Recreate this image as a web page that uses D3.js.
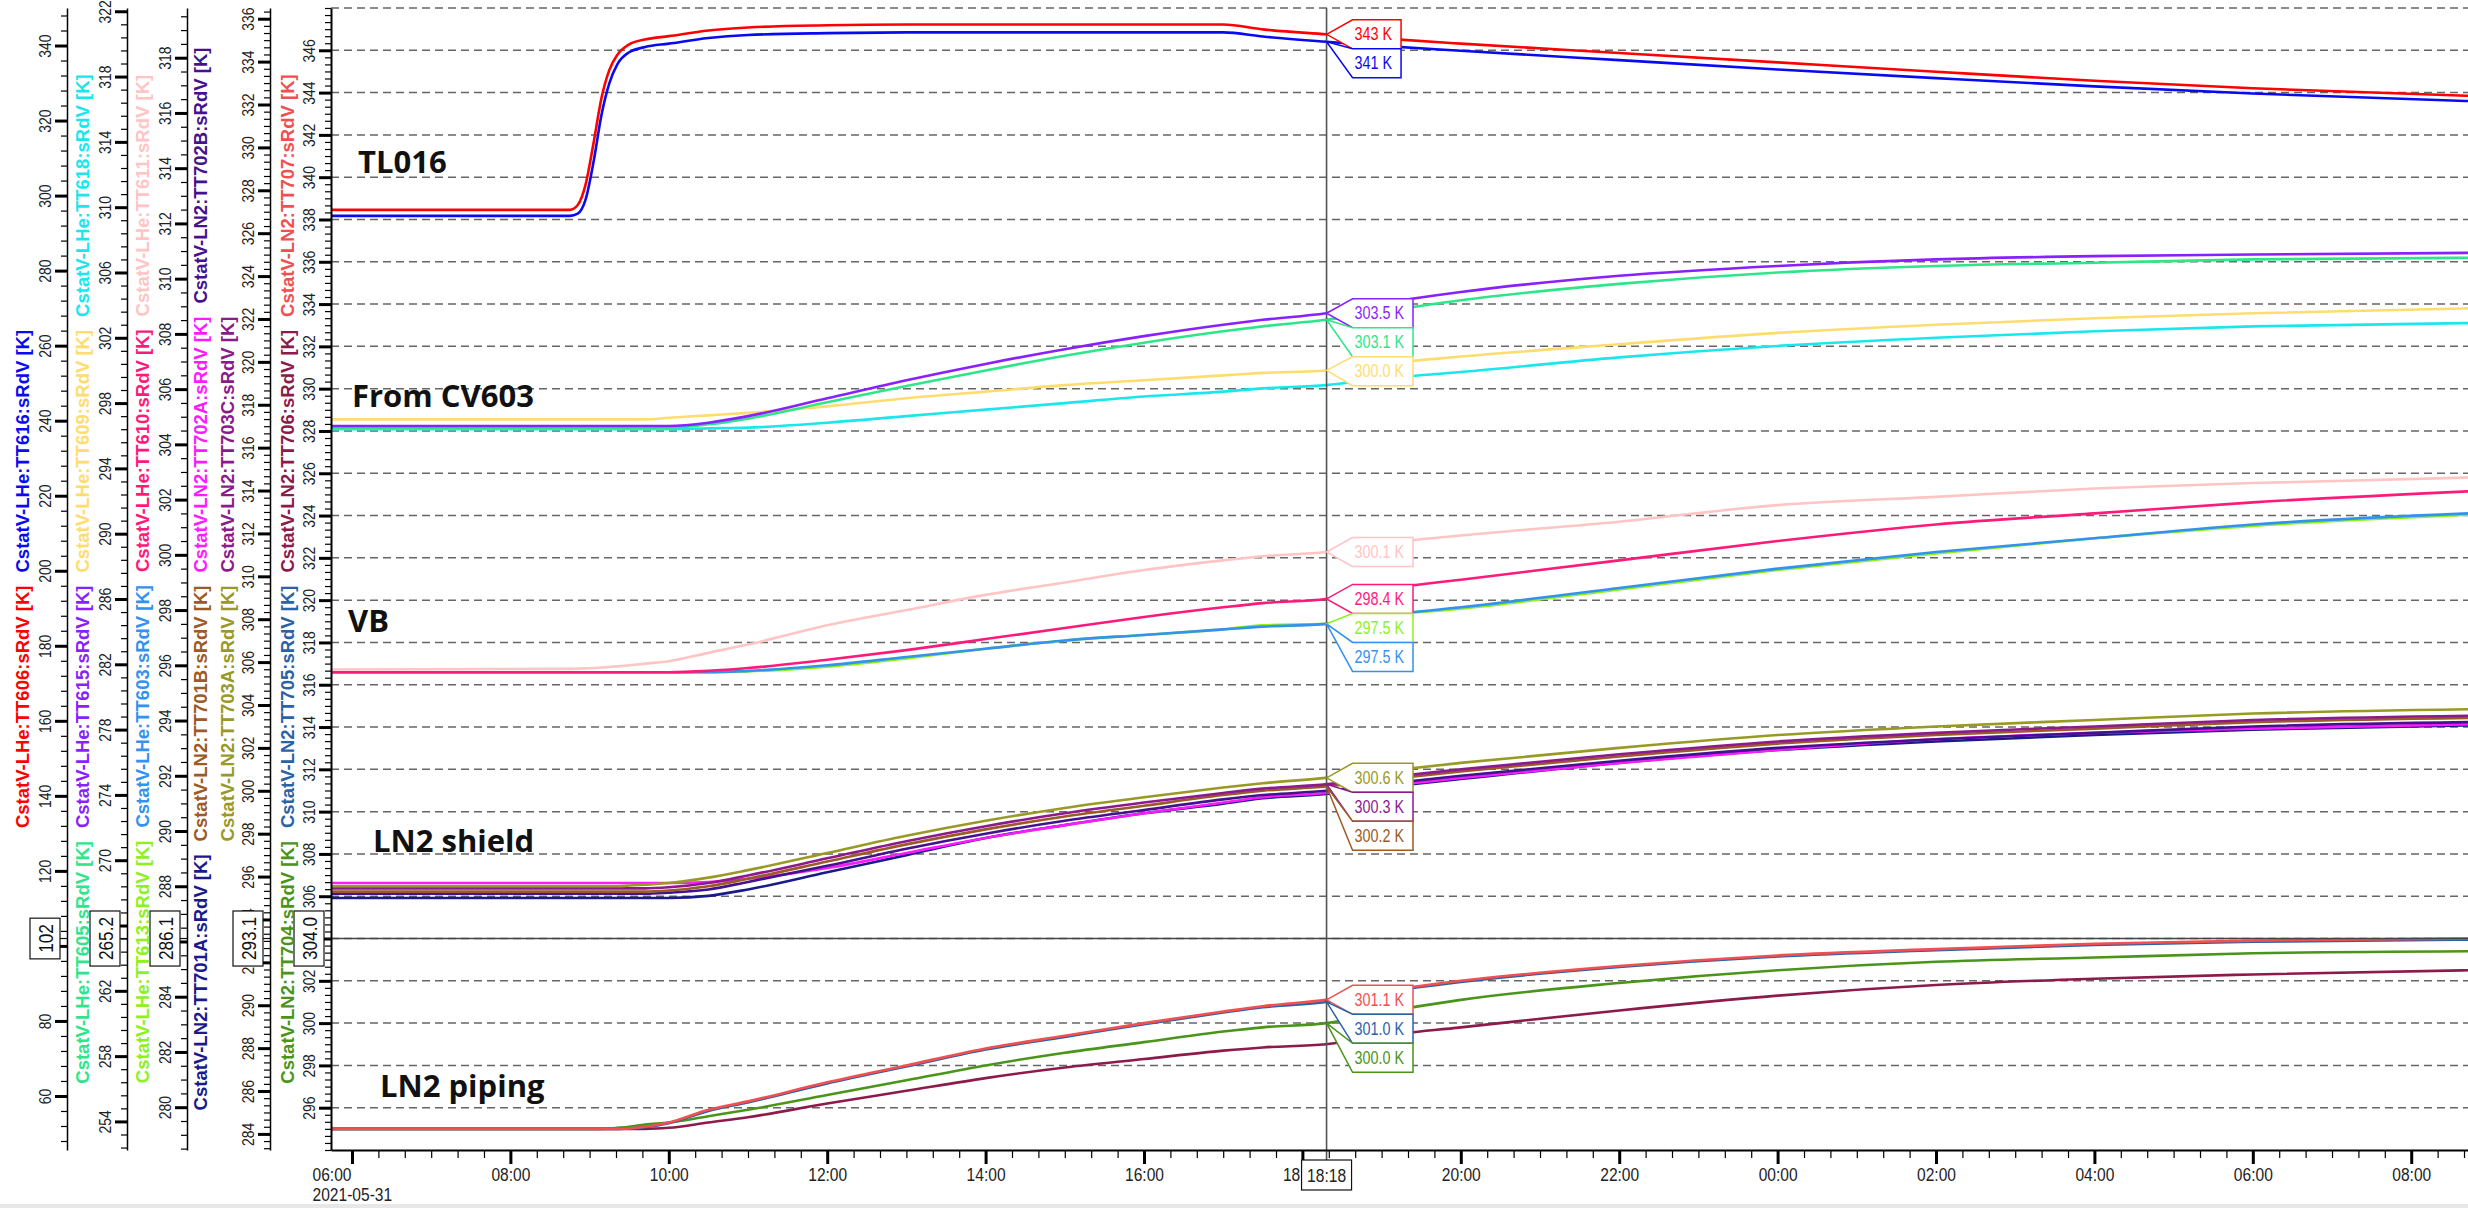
<!DOCTYPE html>
<html>
<head>
<meta charset="utf-8">
<script src="https://cdn.jsdelivr.net/npm/d3@7"></script>
<style>
  body { margin: 0; background: #fff; }
  svg { display: block; font-family: "Liberation Sans", Arial, sans-serif; }
</style>
</head>
<body>
<svg id="chart" width="2468" height="1208"></svg>
<script>
// sample times, hours since 2021-05-31 00:00
const hours = [5.73, 8.75, 8.85, 8.95, 9.05, 9.15, 9.25, 9.35, 9.5, 9.7, 10, 10.5, 11, 12, 13, 14, 15, 16, 17, 17.5, 18.3, 19, 20, 22, 24, 26, 28, 30, 32.72];

// TL016
const tt606 = [296.2, 296.2, 297.5, 303.0, 314.0, 326.0, 333.5, 337.5, 340.3, 341.6, 342.5, 344.0, 344.8, 345.4, 345.6, 345.6, 345.6, 345.6, 345.6, 344.3, 343.0, 341.9, 340.5, 338.0, 335.5, 333.0, 330.6, 328.6, 326.6];
const tt616 = [294.6, 294.6, 295.2, 299.0, 309.0, 321.5, 330.0, 335.0, 338.2, 339.6, 340.5, 342.0, 342.8, 343.3, 343.5, 343.5, 343.5, 343.5, 343.5, 342.4, 341.0, 339.9, 338.6, 336.1, 333.6, 331.3, 329.1, 327.2, 325.2];
// From CV603
const tt615 = [296.6, 296.6, 296.6, 296.6, 296.6, 296.6, 296.6, 296.6, 296.6, 296.6, 296.6, 296.8, 297.2, 298.3, 299.4, 300.4, 301.3, 302.1, 302.8, 303.1, 303.5, 304.1, 304.8, 305.8, 306.4, 306.8, 307.0, 307.1, 307.2];
const tt605 = [296.5, 296.5, 296.5, 296.5, 296.5, 296.5, 296.5, 296.5, 296.5, 296.5, 296.5, 296.7, 297.05, 298.05, 299.05, 300.0, 300.9, 301.7, 302.4, 302.7, 303.1, 303.6, 304.3, 305.3, 306.0, 306.4, 306.6, 306.8, 306.9];
const tt609 = [297.0, 297.0, 297.0, 297.0, 297.0, 297.0, 297.0, 297.0, 297.0, 297.0, 297.1, 297.25, 297.4, 297.8, 298.3, 298.7, 299.1, 299.4, 299.7, 299.85, 300.0, 300.4, 300.85, 301.6, 302.3, 302.8, 303.2, 303.5, 303.8];
const tt618 = [296.4, 296.4, 296.4, 296.4, 296.4, 296.4, 296.4, 296.4, 296.4, 296.4, 296.4, 296.45, 296.5, 296.8, 297.2, 297.6, 298.0, 298.4, 298.7, 298.9, 299.1, 299.5, 299.9, 300.8, 301.5, 302.0, 302.4, 302.7, 302.9];
// VB
const tt611 = [295.85, 295.87, 295.88, 295.89, 295.9, 295.92, 295.94, 295.96, 296.0, 296.06, 296.15, 296.45, 296.75, 297.45, 298.0, 298.55, 299.0, 299.45, 299.8, 299.95, 300.1, 300.4, 300.7, 301.2, 301.8, 302.1, 302.4, 302.6, 302.8];
const tt610 = [295.75, 295.75, 295.75, 295.75, 295.75, 295.75, 295.75, 295.75, 295.75, 295.75, 295.75, 295.8, 295.9, 296.2, 296.55, 296.95, 297.35, 297.75, 298.1, 298.25, 298.4, 298.75, 299.1, 299.8, 300.5, 301.1, 301.5, 301.9, 302.3];
const tt603 = [295.75, 295.75, 295.75, 295.75, 295.75, 295.75, 295.75, 295.75, 295.75, 295.75, 295.75, 295.75, 295.8, 296.0, 296.3, 296.6, 296.9, 297.1, 297.3, 297.4, 297.5, 297.8, 298.1, 298.8, 299.5, 300.1, 300.6, 301.1, 301.5];
const tt613 = [295.75, 295.75, 295.75, 295.75, 295.75, 295.75, 295.75, 295.75, 295.75, 295.75, 295.75, 295.75, 295.78, 295.95, 296.25, 296.6, 296.9, 297.1, 297.3, 297.45, 297.5, 297.8, 298.05, 298.75, 299.45, 300.05, 300.6, 301.05, 301.45];
// LN2 shield
const tt703a = [295.55, 295.55, 295.55, 295.55, 295.55, 295.55, 295.55, 295.55, 295.58, 295.62, 295.7, 295.95, 296.3, 297.1, 297.9, 298.6, 299.2, 299.7, 300.15, 300.35, 300.6, 300.9, 301.3, 302.0, 302.6, 303.0, 303.3, 303.6, 303.8];
const tt703c = [295.45, 295.45, 295.45, 295.45, 295.45, 295.45, 295.45, 295.45, 295.45, 295.45, 295.5, 295.7, 296.05, 296.85, 297.65, 298.35, 298.95, 299.45, 299.9, 300.1, 300.3, 300.6, 301.0, 301.7, 302.3, 302.7, 303.0, 303.3, 303.5];
const tt701b = [295.3, 295.3, 295.3, 295.3, 295.3, 295.3, 295.3, 295.3, 295.3, 295.3, 295.35, 295.55, 295.9, 296.7, 297.5, 298.2, 298.8, 299.3, 299.8, 300.0, 300.2, 300.5, 300.9, 301.6, 302.2, 302.6, 302.9, 303.2, 303.4];
const tt702b = [295.2, 295.2, 295.2, 295.2, 295.2, 295.2, 295.2, 295.2, 295.2, 295.2, 295.25, 295.4, 295.75, 296.5, 297.3, 298.0, 298.6, 299.1, 299.6, 299.8, 300.0, 300.3, 300.7, 301.4, 302.0, 302.4, 302.7, 303.0, 303.2];
const tt702a = [295.7, 295.7, 295.7, 295.7, 295.7, 295.7, 295.7, 295.7, 295.7, 295.7, 295.7, 295.75, 295.9, 296.4, 297.1, 297.8, 298.4, 298.95, 299.45, 299.7, 299.9, 300.2, 300.6, 301.3, 301.9, 302.4, 302.7, 302.9, 303.1];
const tt701a = [295.0, 295.0, 295.0, 295.0, 295.0, 295.0, 295.0, 295.0, 295.0, 295.0, 295.0, 295.1, 295.4, 296.2, 297.0, 297.8, 298.4, 298.95, 299.4, 299.65, 299.85, 300.15, 300.55, 301.3, 301.9, 302.3, 302.6, 302.85, 303.05];
// LN2 piping
const tt707 = [295.0, 295.0, 295.0, 295.0, 295.0, 295.0, 295.0, 295.0, 295.02, 295.1, 295.3, 295.9, 296.3, 297.2, 298.0, 298.8, 299.4, 300.0, 300.55, 300.8, 301.1, 301.5, 302.0, 302.7, 303.2, 303.5, 303.75, 303.9, 304.0];
const tt705 = [295.0, 295.0, 295.0, 295.0, 295.0, 295.0, 295.0, 295.0, 295.02, 295.08, 295.27, 295.85, 296.25, 297.15, 297.95, 298.75, 299.35, 299.95, 300.5, 300.75, 301.0, 301.45, 301.95, 302.65, 303.15, 303.45, 303.7, 303.85, 303.95];
const tt704 = [295.0, 295.0, 295.0, 295.0, 295.0, 295.0, 295.02, 295.05, 295.1, 295.2, 295.3, 295.6, 295.9, 296.6, 297.3, 298.0, 298.6, 299.1, 299.6, 299.8, 300.0, 300.5, 301.1, 301.9, 302.5, 302.9, 303.1, 303.3, 303.4];
const tt706 = [295.0, 295.0, 295.0, 295.0, 295.0, 295.0, 295.0, 295.0, 295.0, 295.0, 295.05, 295.3, 295.55, 296.2, 296.8, 297.4, 297.9, 298.3, 298.7, 298.85, 299.0, 299.4, 299.8, 300.6, 301.3, 301.8, 302.1, 302.3, 302.5];

const seriesList = [
  { id: "TT616", label: "CstatV-LHe:TT616:sRdV [K]", color: "#0a0af0", axis: 0, values: tt616 },
  { id: "TT606", label: "CstatV-LHe:TT606:sRdV [K]", color: "#ff0000", axis: 0, values: tt606 },
  { id: "TT618", label: "CstatV-LHe:TT618:sRdV [K]", color: "#1ae6ee", axis: 1, values: tt618 },
  { id: "TT609", label: "CstatV-LHe:TT609:sRdV [K]", color: "#ffdc6e", axis: 1, values: tt609 },
  { id: "TT605", label: "CstatV-LHe:TT605:sRdV [K]", color: "#2ee68a", axis: 1, values: tt605 },
  { id: "TT615", label: "CstatV-LHe:TT615:sRdV [K]", color: "#8a1fff", axis: 1, values: tt615 },
  { id: "TT611", label: "CstatV-LHe:TT611:sRdV [K]", color: "#ffc4c4", axis: 2, values: tt611 },
  { id: "TT613", label: "CstatV-LHe:TT613:sRdV [K]", color: "#8cf21a", axis: 2, values: tt613 },
  { id: "TT603", label: "CstatV-LHe:TT603:sRdV [K]", color: "#3392f0", axis: 2, values: tt603 },
  { id: "TT610", label: "CstatV-LHe:TT610:sRdV [K]", color: "#ff1a7a", axis: 2, values: tt610 },
  { id: "TT701A", label: "CstatV-LN2:TT701A:sRdV [K]", color: "#1a1a8c", axis: 3, values: tt701a },
  { id: "TT702A", label: "CstatV-LN2:TT702A:sRdV [K]", color: "#ff1aff", axis: 3, values: tt702a },
  { id: "TT702B", label: "CstatV-LN2:TT702B:sRdV [K]", color: "#45128f", axis: 3, values: tt702b },
  { id: "TT701B", label: "CstatV-LN2:TT701B:sRdV [K]", color: "#9c5a24", axis: 3, values: tt701b },
  { id: "TT703C", label: "CstatV-LN2:TT703C:sRdV [K]", color: "#8c1a8c", axis: 3, values: tt703c },
  { id: "TT703A", label: "CstatV-LN2:TT703A:sRdV [K]", color: "#999926", axis: 3, values: tt703a },
  { id: "TT706", label: "CstatV-LN2:TT706:sRdV [K]", color: "#8c1a4a", axis: 4, values: tt706 },
  { id: "TT704", label: "CstatV-LN2:TT704:sRdV [K]", color: "#4a9419", axis: 4, values: tt704 },
  { id: "TT705", label: "CstatV-LN2:TT705:sRdV [K]", color: "#2a62a8", axis: 4, values: tt705 },
  { id: "TT707", label: "CstatV-LN2:TT707:sRdV [K]", color: "#f25050", axis: 4, values: tt707 }
];

// y axes, left to right
const axisDomains = [[45.6, 350], [252.25, 322.2], [278.45, 319.8], [283.25, 336.5], [294, 348]];
const axisTicks = [d3.range(60, 341, 20), d3.range(254, 323, 4), d3.range(280, 319, 2), d3.range(284, 337, 2), d3.range(296, 347, 2)];
const axisMinorSteps = [4, 0.8, 0.5, 1 / 3, 1 / 3];
const axisFormats = [".0f", ".1f", ".1f", ".1f", ".1f"];

// axis titles per column, stacked bottom to top
const titleColumns = [
  ["TT606", "TT616"],
  ["TT605", "TT615", "TT609", "TT618"],
  ["TT613", "TT603", "TT610", "TT611"],
  ["TT701A", "TT701B", "TT702A", "TT702B"],
  ["TT703A", "TT703C"],
  ["TT704", "TT705", "TT706", "TT707"]
];

const bandNames = ["TL016", "From CV603", "VB", "LN2 shield", "LN2 piping"];
const gridValues = d3.range(296, 349, 2);
const crosshairValue = 304.0;
const cursorTime = new Date(2021, 4, 31, 18, 18, 18);
// [series, decimals] of the value tags at the cursor
const cursorTags = [
  ["TT606", 0], ["TT616", 0],
  ["TT615", 1], ["TT605", 1], ["TT609", 1],
  ["TT611", 1], ["TT610", 1], ["TT613", 1], ["TT603", 1],
  ["TT703A", 1], ["TT703C", 1], ["TT701B", 1],
  ["TT707", 1], ["TT705", 1], ["TT704", 1]
];

// layout
const plot = { left: 331, right: 2468, top: 8, bottom: 1150 };
const axisX = [67, 127, 187, 270, 331];
const titleX = [22, 82, 142, 200, 227, 287];
const bandPos = [[358, 173], [352, 407], [348, 632], [373, 852], [380, 1097]];
const narrow = "scale(0.82,1)";

const svg = d3.select("#chart");
const day0 = new Date(2021, 4, 31);
const toDate = (h) => new Date(day0.getTime() + h * 3600e3);
const byId = new Map(seriesList.map((s) => [s.id, s]));

const x = d3.scaleTime()
  .domain([toDate(5.735), toDate(32.717)])
  .range([plot.left, plot.right]);
const yScales = axisDomains.map((d) => d3.scaleLinear().domain(d).range([plot.bottom, plot.top]));

svg.append("rect").attr("y", 1204).attr("width", 2468).attr("height", 4).attr("fill", "#e8e8e8");

// Grid
svg.append("g")
  .selectAll("line")
  .data(gridValues)
  .join("line")
  .attr("x1", plot.left)
  .attr("x2", plot.right)
  .attr("y1", (d) => yScales[4](d))
  .attr("y2", (d) => yScales[4](d))
  .attr("stroke", "#666")
  .attr("stroke-width", 1.5)
  .attr("stroke-dasharray", "8,5");

// Band labels
svg.append("g")
  .selectAll("text")
  .data(bandNames)
  .join("text")
  .attr("x", (d, i) => bandPos[i][0])
  .attr("y", (d, i) => bandPos[i][1])
  .attr("font-family", "'Open Sans', 'Noto Sans', sans-serif")
  .attr("font-weight", 700)
  .attr("font-size", 31)
  .attr("fill", "#111")
  .text((d) => d);

// Lines
svg.append("clipPath").attr("id", "clip")
  .append("rect")
  .attr("x", plot.left).attr("y", 0)
  .attr("width", plot.right - plot.left).attr("height", plot.bottom);

const lineLayer = svg.append("g").attr("clip-path", "url(#clip)");
seriesList.forEach((s) => {
  const line = d3.line()
    .x((d, i) => x(toDate(hours[i])))
    .y((d) => yScales[s.axis](d))
    .curve(d3.curveMonotoneX);
  lineLayer.append("path")
    .attr("d", line(s.values))
    .attr("fill", "none")
    .attr("stroke", s.color)
    .attr("stroke-width", 2.6);
});

// Crosshair
const cy = yScales[4](crosshairValue);
const cx = x(cursorTime);
svg.append("line")
  .attr("x1", plot.left).attr("x2", plot.right)
  .attr("y1", cy).attr("y2", cy)
  .attr("stroke", "#444").attr("stroke-width", 1.5);
svg.append("line")
  .attr("x1", cx).attr("x2", cx)
  .attr("y1", plot.top).attr("y2", 1160)
  .attr("stroke", "#555").attr("stroke-width", 1.6);

// Y axes
axisDomains.forEach((dom, i) => {
  const y = yScales[i];
  const g = svg.append("g").attr("transform", `translate(${axisX[i]},0)`);

  const step = axisMinorSteps[i];
  const minor = [];
  for (let v = axisTicks[i][0]; v <= dom[1] + 1e-9; v += step) minor.push(v);
  for (let v = axisTicks[i][0] - step; v >= dom[0] - 1e-9; v -= step) minor.push(v);

  g.append("g").call(d3.axisLeft(y).tickValues(minor).tickSize(6).tickSizeOuter(0).tickFormat(""))
    .call((a) => a.select(".domain").attr("stroke-width", i === 4 ? 2 : 1.5))
    .call((a) => a.selectAll(".tick line").attr("stroke-width", 1.2));

  g.append("g").call(d3.axisLeft(y).tickValues(axisTicks[i]).tickSize(12).tickSizeOuter(0))
    .call((a) => a.select(".domain").remove())
    .call((a) => a.selectAll(".tick line").attr("stroke-width", 3))
    .call((a) => a.selectAll(".tick text")
      .attr("x", 0).attr("y", 0).attr("dy", "0.36em")
      .attr("text-anchor", "middle")
      .attr("font-size", 17)
      .attr("font-family", "'Liberation Sans', Arial, sans-serif")
      .attr("fill", "#222")
      .attr("transform", `translate(-22,0) rotate(-90) ${narrow}`));

  // crosshair value box
  const label = d3.format(axisFormats[i])(y.invert(cy));
  const bx = g.append("g").attr("transform", `translate(-22,${cy})`);
  const t = bx.append("text")
    .attr("transform", `rotate(-90) ${narrow}`)
    .attr("dy", "0.36em")
    .attr("text-anchor", "middle")
    .attr("font-size", 21)
    .attr("fill", "#111")
    .text(label);
  const len = t.node().getComputedTextLength() * 0.82;
  bx.insert("rect", "text")
    .attr("x", -15).attr("y", -len / 2 - 6)
    .attr("width", 30).attr("height", len + 12)
    .attr("fill", "#fff").attr("stroke", "#111").attr("stroke-width", 1.2);
  g.append("line")
    .attr("x1", -7).attr("x2", 0)
    .attr("y1", cy).attr("y2", cy)
    .attr("stroke", "#111").attr("stroke-width", 1.2);
});

// Axis titles
titleColumns.forEach((ids, c) => {
  const col = svg.append("g");
  const items = ids.map((id) => {
    const s = byId.get(id);
    const t = col.append("text")
      .attr("font-size", 18.5)
      .attr("font-weight", 700)
      .attr("fill", s.color)
      .attr("dy", "0.36em")
      .text(s.label);
    return { t, len: t.node().getComputedTextLength() };
  });
  const gap = 13;
  const total = d3.sum(items, (d) => d.len) + gap * (items.length - 1);
  let base = (plot.top + plot.bottom) / 2 + total / 2;
  items.forEach((d) => {
    d.t.attr("transform", `translate(${titleX[c]},${base}) rotate(-90)`);
    base -= d.len + gap;
  });
});

// X axis
const xMinor = svg.append("g").attr("transform", `translate(0,${plot.bottom})`)
  .call(d3.axisBottom(x).ticks(d3.timeMinute.every(20)).tickSize(8).tickSizeOuter(0).tickFormat(""));
xMinor.select(".domain").attr("stroke-width", 2);
xMinor.selectAll(".tick line").attr("stroke-width", 1.2);

const cursorBoxW = 50;
const hourFormat = d3.timeFormat("%H:%M");
const xMajor = svg.append("g").attr("transform", `translate(0,${plot.bottom})`)
  .call(d3.axisBottom(x).ticks(d3.timeHour.every(2)).tickSize(14).tickSizeOuter(0).tickFormat(hourFormat));
xMajor.select(".domain").remove();
xMajor.selectAll(".tick line").attr("stroke-width", 3);
xMajor.selectAll(".tick text")
  .attr("y", 18)
  .attr("font-size", 19)
  .attr("font-family", "'Liberation Sans', Arial, sans-serif")
  .attr("fill", "#222")
  .attr("transform", narrow)
  // the cursor box hides the minutes of the label it sits on
  .text((d) => (Math.abs(x(d) - cx) < cursorBoxW ? hourFormat(d).slice(0, 3) : hourFormat(d)))
  .attr("text-anchor", (d) => (Math.abs(x(d) - cx) < cursorBoxW ? "start" : "middle"))
  .attr("x", (d) => (Math.abs(x(d) - cx) < cursorBoxW ? -20 / 0.82 : 0));

const firstTick = xMajor.select(".tick");
firstTick.select("text").attr("text-anchor", "start").attr("x", -40 / 0.82);
firstTick.append("text")
  .attr("x", -40 / 0.82).attr("y", 38).attr("dy", "0.71em")
  .attr("font-size", 19)
  .attr("fill", "#222")
  .attr("text-anchor", "start")
  .attr("transform", narrow)
  .text(d3.timeFormat("%Y-%m-%d")(x.domain()[0]));

// cursor time box
const cursorBox = svg.append("g").attr("transform", `translate(${cx},1160)`);
cursorBox.append("rect")
  .attr("x", -cursorBoxW / 2).attr("y", 0).attr("width", cursorBoxW).attr("height", 30)
  .attr("fill", "#fff").attr("stroke", "#111").attr("stroke-width", 1.2);
cursorBox.append("text")
  .attr("y", 22)
  .attr("text-anchor", "middle")
  .attr("font-size", 19)
  .attr("fill", "#222")
  .attr("transform", narrow)
  .text(hourFormat(cursorTime));

// Value tags at the cursor
const cursorHours = (cursorTime - day0) / 3600e3;
function valueAt(values, h) {
  const i = Math.min(d3.bisectRight(hours, h) - 1, hours.length - 2);
  const f = (h - hours[i]) / (hours[i + 1] - hours[i]);
  return values[i] + f * (values[i + 1] - values[i]);
}

const tagLayer = svg.append("g");
let prevBottom = -Infinity;
cursorTags.forEach(([id, dec]) => {
  const s = byId.get(id);
  const v = valueAt(s.values, cursorHours);
  const py = yScales[s.axis](v);
  const h = 29;
  const top = Math.max(py - h / 2, prevBottom);
  prevBottom = top + h;
  const x0 = cx + 26;
  const g = tagLayer.append("g");
  const txt = g.append("text")
    .attr("transform", `translate(${x0 + 2},${top + h / 2 + 6}) ${narrow}`)
    .attr("font-size", 17.5)
    .attr("fill", s.color)
    .text(`${d3.format(`.${dec}f`)(v)} K`);
  const x1 = x0 + 2 + txt.node().getComputedTextLength() * 0.82 + 9;
  g.insert("path", "text")
    .attr("d", `M${cx},${py}L${x0},${top}L${x1},${top}L${x1},${top + h}L${x0},${top + h}Z`)
    .attr("fill", "#fff")
    .attr("stroke", s.color)
    .attr("stroke-width", 1.5);
});
</script>
</body>
</html>
